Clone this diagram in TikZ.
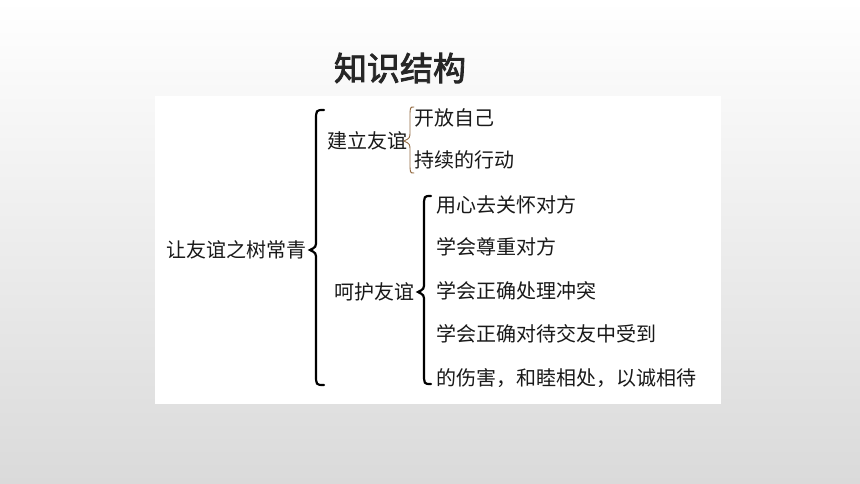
\documentclass[tikz,border=0pt]{standalone}
\usepackage{fontspec}
\setmainfont{Noto Sans CJK SC}
\newfontfamily\cjkbold{Noto Sans CJK SC}[FakeBold=2.5]
\definecolor{bgbot}{RGB}{218,218,218}
\definecolor{titlecol}{RGB}{38,38,38}
\definecolor{txtcol}{RGB}{25,25,25}
\definecolor{browncol}{RGB}{150,110,70}
\newcommand\mybrace[6]{%
  \draw[#1] (#3,#4) .. controls (#2,#4) .. (#2,#4+11) -- (#2,#5-10)
    .. controls (#2,#5-3) .. (#2-6,#5) .. controls (#2,#5+3) .. (#2,#5+10)
    -- (#2,#6-11) .. controls (#2,#6) .. (#3,#6);}
\tikzset{
  item/.style={anchor=west, inner sep=0pt, font=\fontsize{20}{22}\selectfont, text=txtcol},
  bigbrace/.style={line width=2.2pt, black, line cap=round},
  thinbrace/.style={line width=0.9pt, browncol, line cap=round},
}
\begin{document}
\begin{tikzpicture}[x=1pt,y=-1pt]
\shade[top color=white, bottom color=bgbot] (0,0) rectangle (860,484);
\useasboundingbox (0,0) rectangle (860,484);
\fill[white] (155,96) rectangle (721,404);
\node[inner sep=0pt, text=titlecol, font=\cjkbold\fontsize{33}{36}\selectfont] (title) at (400,68) {知识结构};
\node[item] (root) at (166,250) {让友谊之树常青};
\node[item] (jl) at (327,141) {建立友谊};
\node[item] (hh) at (334,292) {呵护友谊};
\node[item] (a1) at (414,118) {开放自己};
\node[item] (a2) at (414,160) {持续的行动};
\node[item] (b1) at (436,205) {用心去关怀对方};
\node[item] (b2) at (436,247) {学会尊重对方};
\node[item] (b3) at (436,291) {学会正确处理冲突};
\node[item] (b4) at (436,334) {学会正确对待交友中受到};
\node[item] (b5) at (436,378) {的伤害，和睦相处，以诚相待};
\mybrace{bigbrace}{316}{324}{110}{250}{385}
\mybrace{thinbrace}{410}{414}{107}{141}{173}
\mybrace{bigbrace}{424}{431}{196}{292}{384}
\end{tikzpicture}
\end{document}
